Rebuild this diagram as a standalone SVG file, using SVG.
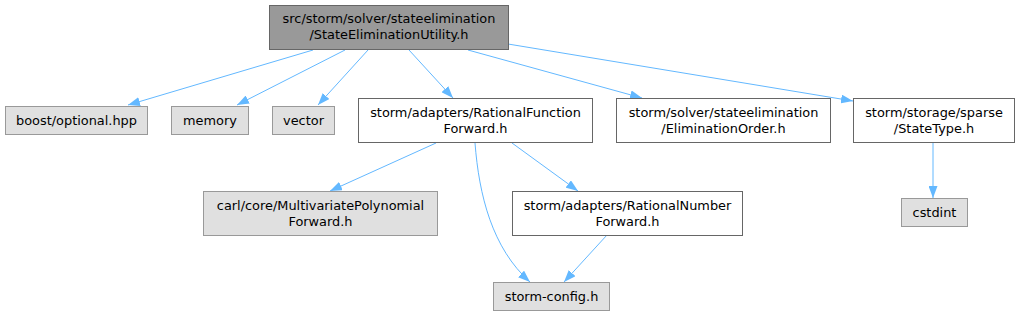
<svg xmlns="http://www.w3.org/2000/svg" width="1019" height="316" viewBox="0 0 1019 316">
<defs>
<style>
.n rect{stroke-width:1}
.g rect{fill:#e0e0e0;stroke:#999999}
.w rect{fill:#ffffff;stroke:#666666}
.r rect{fill:#999999;stroke:#666666}
text{font-family:"DejaVu Sans","Liberation Sans",sans-serif;font-size:12.9px;fill:#000;text-anchor:middle}
.e path{fill:none;stroke:#63b8ff;stroke-width:1;marker-end:url(#ah)}
</style>
<marker id="ah" viewBox="0 0 12 9" refX="12" refY="4.5" markerWidth="12" markerHeight="9" markerUnits="userSpaceOnUse" orient="auto">
<path d="M0,0 L12,4.5 L0,9 z" fill="#63b8ff"/>
</marker>
</defs>
<rect width="1019" height="316" fill="#ffffff"/>
<g id="edges" class="e">
<path d="M313,50 L128,105"/>
<path d="M345,50 L237,105"/>
<path d="M368,50 L318,105"/>
<path d="M409,50 L453,98"/>
<path d="M468,50 L642,98"/>
<path d="M508,44 L853,101"/>
<path d="M933,143 L933,198"/>
<path d="M436,143 L330,191"/>
<path d="M512,143 L578,191"/>
<path d="M475,143 C479,195 492,248 530,282"/>
<path d="M607,235 L564,282"/>
</g>
<g id="root" class="n r"><rect x="269.5" y="5.5" width="239" height="44"/><text x="389" y="23">src/storm/solver/stateelimination</text><text x="389" y="39">/StateEliminationUtility.h</text></g>
<g id="boost" class="n g"><rect x="5.5" y="106.5" width="142" height="28"/><text x="76.5" y="125">boost/optional.hpp</text></g>
<g id="memory" class="n g"><rect x="171.5" y="106.5" width="77" height="28"/><text x="210" y="125">memory</text></g>
<g id="vector" class="n g"><rect x="272.5" y="106.5" width="62" height="28"/><text x="303.5" y="125">vector</text></g>
<g id="ratfunc" class="n w"><rect x="358.5" y="98.5" width="234" height="44"/><text x="475.5" y="117">storm/adapters/RationalFunction</text><text x="475.5" y="133">Forward.h</text></g>
<g id="elimorder" class="n w"><rect x="616.5" y="98.5" width="214" height="44"/><text x="723.5" y="117">storm/solver/stateelimination</text><text x="723.5" y="133">/EliminationOrder.h</text></g>
<g id="statetype" class="n w"><rect x="853.5" y="98.5" width="161" height="44"/><text x="934" y="117">storm/storage/sparse</text><text x="934" y="133">/StateType.h</text></g>
<g id="cstdint" class="n g"><rect x="901.5" y="198.5" width="66" height="28"/><text x="934.5" y="217">cstdint</text></g>
<g id="carl" class="n g"><rect x="203.5" y="191.5" width="234" height="44"/><text x="320.5" y="210">carl/core/MultivariatePolynomial</text><text x="320.5" y="226">Forward.h</text></g>
<g id="ratnum" class="n w"><rect x="512.5" y="191.5" width="230" height="44"/><text x="627.5" y="210">storm/adapters/RationalNumber</text><text x="627.5" y="226">Forward.h</text></g>
<g id="config" class="n g"><rect x="493.5" y="282.5" width="116" height="28"/><text x="551.5" y="301">storm-config.h</text></g>
</svg>
